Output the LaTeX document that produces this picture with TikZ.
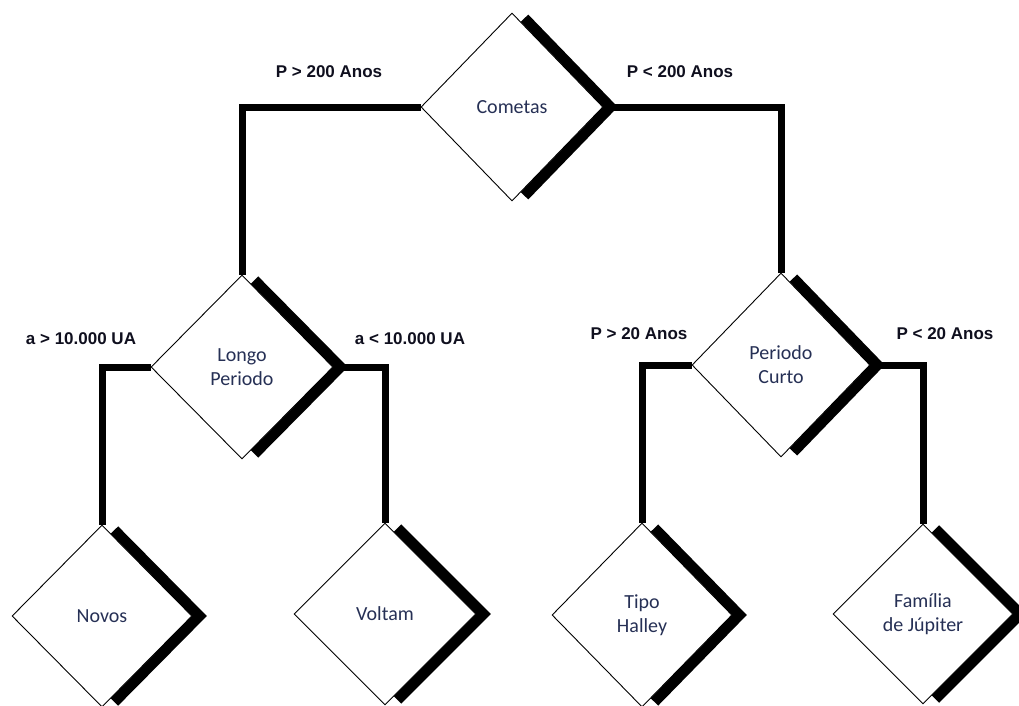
\documentclass[tikz,border=0pt]{standalone}
\usepackage{fontspec}
\setmainfont{Carlito}
\newfontfamily\labfont{Liberation Sans}
\usetikzlibrary{shapes.geometric,calc}
\definecolor{dtext}{RGB}{38,48,85}
\definecolor{ltext}{RGB}{15,15,30}
\tikzset{
  dnode/.style={diamond,draw=black,line width=0.9pt,fill=white,inner sep=0pt,
    align=center,font=\fontsize{20}{24}\selectfont,text=dtext},
  shade/.style={line width=10.5pt,line join=miter,draw=black},
  conn/.style={line width=7pt,draw=black,line join=miter},
  lbl/.style={font=\labfont\bfseries\fontsize{17}{20}\selectfont,text=ltext,inner sep=0pt}
}
\begin{document}
\begin{tikzpicture}[x=1pt,y=-1pt]
\useasboundingbox (0,0) rectangle (1019,705);
\clip (0,0) rectangle (1019,705);
\fill[white] (0,0) rectangle (1019,705);
% diamonds
\node[dnode,minimum width=182pt,minimum height=188pt] (cometas) at (512,107) {Cometas};
\node[dnode,minimum width=182pt,minimum height=184pt] (longo) at (242,367) {Longo\\Periodo};
\node[dnode,minimum width=178pt,minimum height=184pt] (curto) at (781,365) {Periodo\\Curto};
\node[dnode,minimum width=180pt,minimum height=182pt] (novos) at (102,616) {Novos};
\node[dnode,minimum width=182pt,minimum height=182pt] (voltam) at (385,614) {Voltam};
\node[dnode,minimum width=180pt,minimum height=184pt] (halley) at (642,615) {Tipo\\Halley};
\node[dnode,minimum width=180pt,minimum height=180pt] (familia) at (923,614) {Família\\de Júpiter};
% connectors
\draw[conn] (cometas.west) -| (longo.north);
\draw[conn] (cometas.east) -| (curto.north);
\draw[conn] (longo.west) -| (novos.north);
\draw[conn] (longo.east) -| (voltam.north);
\draw[conn] (curto.west) -| (halley.north);
\draw[conn] (curto.east) -| (familia.north);
% shadows
\foreach \n in {cometas,longo,curto,novos,voltam,halley,familia}{
  \draw[shade] ($(\n.north)!0.06!(\n.east)+(7,0)$) -- ($(\n.east)+(7,0)$) -- ($(\n.south)!0.06!(\n.east)+(7,0)$);
}
% labels
\node[lbl] (l1) at (329,72) {P > 200 Anos};
\node[lbl] (l2) at (680,72) {P < 200 Anos};
\node[lbl] (l3) at (81,339) {a > 10.000 UA};
\node[lbl] (l4) at (410,339) {a < 10.000 UA};
\node[lbl] (l5) at (639,334) {P > 20 Anos};
\node[lbl] (l6) at (945,334) {P < 20 Anos};
\end{tikzpicture}
\end{document}
